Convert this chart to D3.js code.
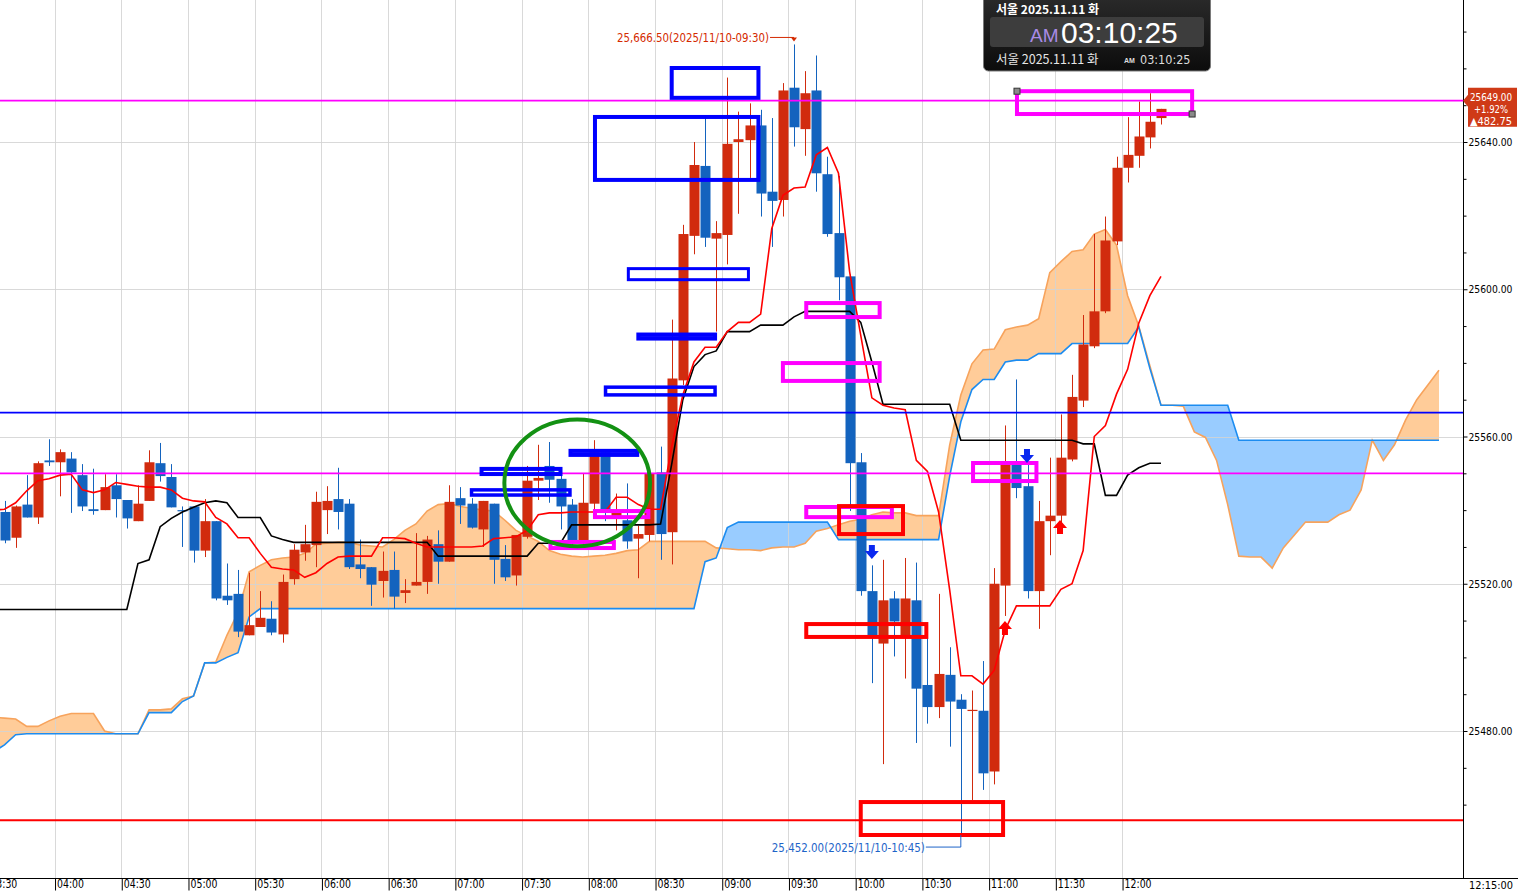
<!DOCTYPE html>
<html><head><meta charset="utf-8">
<script src="https://cdn.jsdelivr.net/npm/d3@7"></script>
<style>
html,body{margin:0;padding:0;background:#fff;overflow:hidden}
svg{display:block}
text{font-family:"Liberation Sans Narrow","DejaVu Sans Condensed",sans-serif}
</style></head><body>
<svg id="c" width="1518" height="892"></svg>
<script>
// ---- categories (5-minute bars) ----
const times = ["03:35","03:40","03:45","03:50","03:55",
"04:00","04:05","04:10","04:15","04:20","04:25","04:30","04:35","04:40","04:45","04:50","04:55",
"05:00","05:05","05:10","05:15","05:20","05:25","05:30","05:35","05:40","05:45","05:50","05:55",
"06:00","06:05","06:10","06:15","06:20","06:25","06:30","06:35","06:40","06:45","06:50","06:55",
"07:00","07:05","07:10","07:15","07:20","07:25","07:30","07:35","07:40","07:45","07:50","07:55",
"08:00","08:05","08:10","08:15","08:20","08:25","08:30","08:35","08:40","08:45","08:50","08:55",
"09:00","09:05","09:10","09:15","09:20","09:25","09:30","09:35","09:40","09:45","09:50","09:55",
"10:00","10:05","10:10","10:15","10:20","10:25","10:30","10:35","10:40","10:45","10:50","10:55",
"11:00","11:05","11:10","11:15","11:20","11:25","11:30","11:35","11:40","11:45","11:50","11:55",
"12:00","12:05","12:10","12:15"];

const open = [25539.5,25532.5,25541.5,25538,25553.5,25553,25554,25549.5,25540.25,25540,
25546.75,25542.75,25537,25542.5,25552.75,25549,25540,25541,25529,25537,
25516.75,25517.25,25506,25508.25,25510.5,25506.25,25521.25,25528.5,25530.5,25540,
25543,25541.75,25525.25,25524.5,25520.75,25523.75,25517.5,25519.5,25520.5,25530.75,
25526,25543.25,25541.75,25534.75,25541.75,25526.75,25522.25,25532.75,25548,25552,
25548.5,25541.5,25531.5,25541.75,25555.75,25538,25537.25,25532.25,25533.25,25550.25,
25534,25575.25,25614.5,25633.5,25613.75,25614.75,25640,25640.5,25644.5,25626.5,
25624.25,25654.75,25643.5,25654,25631.25,25615.25,25603.5,25553,25518,25503.75,
25516,25505.5,25515.5,25492.5,25486.5,25495.25,25488.5,25485.5,25485.5,25469,
25519.5,25552.75,25546.5,25518,25537,25538.5,25553.75,25569.75,25584.5,25594,
25613,25633,25636.25,25641.25,25646.5];
const high = [25542.5,25541.25,25549.5,25553.25,25559.25,25556.5,25555.75,25552.5,25551.25,25549.75,
25549.75,25542.75,25546.75,25556.25,25558.25,25552.5,25541,25541,25543,25537,
25525.5,25523.75,25523,25518,25515.25,25522.5,25530.75,25536,25545,25546.5,
25551.5,25543,25532,25524.5,25528.75,25528.75,25521.25,25533.75,25533,25534.5,
25546.75,25546.25,25543.25,25542.5,25541.75,25530.5,25533.25,25552,25557.75,25558.5,
25550,25543,25550,25559,25556,25544.5,25547.25,25535.75,25551,25557.25,
25591.75,25617.5,25640,25646.5,25618.5,25657.5,25648.25,25650.5,25648.75,25646.5,
25656,25666.5,25659.25,25663.5,25636,25630.75,25604,25555.5,25525,25526.5,
25518,25527,25525.75,25505.75,25517.25,25502.75,25490,25491,25499,25524.25,
25563,25575.5,25552.25,25542.5,25554.25,25566,25576.75,25593,25615,25619.75,
25636,25646.75,25651,25653.25,25649];
const low = [25531,25529.75,25538,25536.25,25552,25543.75,25539.25,25539.75,25538.75,25540,
25538,25535,25537,25542.5,25547.75,25540.75,25530,25525.75,25527.25,25515.5,
25514.25,25505.5,25506,25508.25,25506,25504,25519.75,25526.25,25524.5,25533.5,
25534.75,25524,25521.5,25514,25516.25,25513.25,25514.75,25519.5,25517.25,25520,
25526,25536.25,25535,25530,25520,25520.75,25519.5,25532.25,25542.75,25542,
25534.75,25530,25530,25540,25537,25534.5,25529.5,25521.5,25531.5,25526.5,
25525.25,25574,25609.5,25611.5,25588.5,25606.75,25620.5,25630.25,25619.75,25611.5,
25619.75,25638.75,25636.25,25626.5,25614.25,25597,25539.75,25516.75,25493,25471,
25500.25,25494.25,25476.75,25482,25483.5,25475.75,25452,25461.25,25464,25465.5,
25511.25,25543.25,25516,25507.75,25527.75,25536,25553.25,25568,25584,25593.5,
25612,25629,25633,25638.25,25644.75];
const close = [25531.75,25541,25538,25552.75,25553,25555.75,25550.25,25541,25539.75,25546.25,
25543,25537.75,25541.75,25553,25549.25,25540.75,25539.75,25529,25537,25516,
25515.5,25507,25508.75,25510.75,25506.75,25520.5,25529.25,25530.75,25542.25,25542.5,
25539.5,25524.5,25524,25519.75,25523.5,25516.5,25518.25,25520.5,25532,25526,
25542.25,25541.25,25535.25,25542.5,25526.5,25521.75,25533.25,25548,25548.75,25548.25,
25541,25531.5,25542,25555.75,25539.5,25539.5,25531.5,25533.5,25550,25533.5,
25575.75,25615,25633.75,25614,25615.25,25639.5,25640.75,25644.5,25626,25624,
25654,25644,25653.25,25631.5,25615,25603.25,25552.75,25518,25505.5,25515.5,
25509.75,25516,25491.5,25486.5,25495.5,25488,25486,25485.75,25468.5,25520,
25552.5,25546,25518,25537,25538.5,25554.25,25570.75,25585,25594,25613.25,
25633,25636.5,25641.5,25645.5,25649];

// ---- Ichimoku lines (they start one bar earlier, at 03:30) ----
const lineFirstBar = "03:30";
const tenkan = [25540,25540.25,25542,25545.25,25548,25548.5,25549.5,25549.75,25545.5,25544.75,25545.5,
25547.5,25547,25546.5,25546.25,25546.25,25545.5,25543.25,25542.5,25542.25,25538,
25536.25,25532.5,25532.5,25528.25,25524.5,25524,25523.75,25521.75,25523,25525.5,
25527.25,25527.5,25527.5,25527.5,25532.5,25532.5,25532.25,25531,25530,25530,
25530,25530,25530,25530.25,25532.25,25532.5,25532.75,25534.5,25538.75,25539.25,
25539.25,25539.5,25539.5,25539.5,25539.5,25543.5,25543.5,25541.5,25540.25,25540.25,
25557.25,25571.25,25580.25,25584.25,25584.25,25588.5,25591,25591,25593.25,25616.5,
25625.5,25627.5,25627.75,25636.5,25638.5,25631.5,25604.75,25587.5,25570.5,25568.5,
25567.75,25567.25,25553.5,25550.5,25539.5,25518.25,25495,25495,25492.75,25496.5,
25507.5,25514,25514,25514,25514,25518.5,25520,25529,25560,25563,
25571.5,25578.25,25590.75,25598.25,25603.5];
const kijun = [25513,25513,25513,25513,25513,25513,25513,25513,25513,25513,25513,
25513,25513,25525.5,25526.5,25535.5,25537.75,25539.5,25540.75,25542,25542.5,
25542,25538,25538,25538,25533,25532,25531.25,25531.25,25531.25,25531.25,
25531.25,25531.25,25531.25,25531.25,25531.25,25531.25,25531.25,25531.25,25531.25,25527.5,
25527.5,25527.5,25527.5,25527.5,25527.5,25527.5,25527.5,25527.5,25531,25531,
25531,25536,25536,25536,25536,25536,25536,25536,25536,25536.25,
25552.5,25570,25579,25582.25,25583.25,25588.5,25588.5,25588.5,25590.25,25590.25,
25590.25,25592.5,25594,25594,25594,25594,25594,25591,25580.25,25568.75,
25568.75,25568.75,25568.75,25568.75,25568.75,25568.75,25559,25559,25559,25559,
25559,25559,25559,25559,25559,25559,25559,25558,25558,25544,
25544,25549.5,25551.5,25552.75,25552.75];
const spanA = [25483.75,25483.5,25483.25,25481.25,25481.25,25482.75,25484,25484.75,25484.75,25484.75,25480,
25479.25,25479.25,25479.25,25485.75,25485.75,25486,25488.75,25489.5,25498.5,25498.75,
25506,25512.25,25523.25,25525,25526.5,25527,25527.25,25528.25,25530.75,25531,
25531.25,25531.25,25530.5,25530.25,25530,25532,25534.5,25536.25,25539.75,25541.5,
25541.75,25541,25540.5,25540,25539.75,25537.25,25534.5,25533,25531.5,25529,
25528,25527.5,25527.25,25527.5,25527.75,25528.25,25529,25529.25,25531.5,25531.5,
25531.5,25531.5,25531.5,25531.5,25529.75,25529.5,25529.25,25529.25,25529,25529.75,
25530,25530,25531,25534.25,25535,25536,25537,25537.5,25538.75,25539.5,
25539.25,25539.25,25538.5,25538.5,25538.5,25557.75,25571.25,25579.75,25583.5,25583.75,
25589,25589.75,25590.25,25592,25604.5,25607.5,25610.25,25610.75,25615,25616.25,
25612,25598.25,25590,25579.25,25568.5,25568.5,25568.25,25561.25,25559.75,25553.5,
25541.5,25527.5,25527.25,25527.25,25524.25,25529.75,25533.25,25536.75,25536.75,25536.75,
25538.75,25540,25545.5,25559,25553.5,25557.75,25564.5,25570,25574,25578];
const spanB = [25474.25,25476.25,25479,25479.25,25479.25,25479.25,25479.25,25479.25,25479.25,25479.25,25479.25,
25479.25,25479.25,25479.25,25485,25485,25485,25488,25489.5,25498.5,25498.5,
25500,25501.25,25511,25513.25,25513.25,25513.25,25513.25,25513.25,25513.25,25513.25,
25513.25,25513.25,25513.25,25513.25,25513.25,25513.25,25513.25,25513.25,25513.25,25513.25,
25513.25,25513.25,25513.25,25513.25,25513.25,25513.25,25513.25,25513.25,25513.25,25513.25,
25513.25,25513.25,25513.25,25513.25,25513.25,25513.25,25513.25,25513.25,25513.25,25513.25,
25513.25,25513.25,25513.25,25526,25527,25535.25,25536.75,25536.75,25536.75,25536.75,
25536.75,25536.75,25536.75,25536.75,25536.75,25532,25532,25532,25532,25532,
25532,25532,25532,25532,25532,25549.25,25564,25572.75,25575.5,25575.5,
25580.25,25580.75,25580.75,25582.5,25582.5,25582.5,25585.25,25585.25,25585.25,25585.25,
25585.25,25585.25,25589.75,25578.5,25568.5,25568.5,25568.5,25568.5,25568.5,25568.5,
25568.5,25559,25559,25559,25559,25559,25559,25559,25559,25559,
25559,25559,25559,25559,25559,25559,25559,25559,25559,25559];

// ---- axis ticks ----
const timeTicks = ["03:30","04:00","04:30","05:00","05:30","06:00","06:30","07:00","07:30","08:00","08:30","09:00","09:30","10:00","10:30","11:00","11:30","12:00"];
const priceTicks = [25480,25520,25560,25600,25640];
const minorTicks = [25460,25470,25490,25500,25510,25530,25540,25550,25570,25580,25590,25610,25620,25630,25650,25660,25670];

// ---- user drawings (time index / price) ----
const hLines = [{p:25651.25,c:"#FF00FF"},{p:25550,c:"#FF00FF"},{p:25566.5,c:"#0000FF"},{p:25455.75,c:"#FF0000"}];
const boxes = [
 {c:"#0000FF",w:4,i0:60.0,i1:67.8,p0:25660.1,p1:25652.0},
 {c:"#0000FF",w:4,i0:53.1,i1:67.8,p0:25646.8,p1:25629.7},
 {c:"#0000FF",w:3,i0:56.1,i1:66.9,p0:25605.6,p1:25602.6},
 {c:"#0000FF",w:4,i0:57.0,i1:63.9,p0:25587.7,p1:25586.6},
 {c:"#0000FF",w:3.5,i0:54.05,i1:63.9,p0:25573.4,p1:25571.3},
 {c:"#0000FF",w:4,i0:42.9,i1:50.0,p0:25551.2,p1:25549.8},
 {c:"#0000FF",w:3.5,i0:42.0,i1:50.85,p0:25545.5,p1:25544.1},
 {c:"#0000FF",w:4,i0:50.9,i1:56.9,p0:25556.1,p1:25555.0},
 {c:"#FF00FF",w:4,i0:91.05,i1:106.8,p0:25653.8,p1:25647.6},
 {c:"#FF00FF",w:4,i0:72.1,i1:78.7,p0:25596.25,p1:25592.45},
 {c:"#FF00FF",w:4,i0:70.0,i1:78.7,p0:25579.95,p1:25575.1},
 {c:"#FF00FF",w:4,i0:87.1,i1:92.8,p0:25552.8,p1:25547.9},
 {c:"#FF00FF",w:4,i0:72.1,i1:79.8,p0:25540.85,p1:25538.1},
 {c:"#FF00FF",w:4,i0:53.1,i1:57.9,p0:25539.75,p1:25538.1},
 {c:"#FF00FF",w:4,i0:49.1,i1:54.8,p0:25531.35,p1:25529.7},
 {c:"#FF0000",w:4,i0:75.05,i1:80.8,p0:25541.1,p1:25533.5},
 {c:"#FF0000",w:4,i0:72.1,i1:82.9,p0:25509.05,p1:25505.55},
 {c:"#FF0000",w:4,i0:77.0,i1:89.8,p0:25460.7,p1:25451.75}
];
const circle = {i:51.5, p:25547.4, ri:6.55, rp:17.2};
const arrows = [{i:78,p:25528.6,dir:"down",c:"#0A28F0"},{i:91.95,p:25554.7,dir:"down",c:"#0A28F0"},
                {i:89.97,p:25508,dir:"up",c:"#FF0000"},{i:94.92,p:25535.4,dir:"up",c:"#FF0000"}];
const highMark = {i:71, p:25666.5, label:"25,666.50(2025/11/10-09:30)"};
const lowMark = {i:86, p:25452, label:"25,452.00(2025/11/10-10:45)"};
const lastPrice = ["25649.00","+1.92%","▲482.75"];

// ---- layout ----
const plotR = 1463, plotB = 878;
const svg = d3.select("#c");
const x = d3.scaleLinear().domain([-0.405, 131.16]).range([0, plotR]);
const y = d3.scaleLinear().domain([25640, 25480]).range([142, 731]);
const toMin = t => { const [h,m] = t.split(":").map(Number); return h*60+m; };
const barIdx = t => (toMin(t) - toMin(times[0]))/5;
const lineOff = barIdx(lineFirstBar);

const RED = "#D12B0E", BLUE = "#1363BE";
const NARROW = '"Liberation Sans Narrow","DejaVu Sans Condensed",sans-serif';

const plot = svg.append("g");
const defs = svg.append("defs");
defs.append("clipPath").attr("id","plotclip").append("rect").attr("x",0).attr("y",0).attr("width",plotR).attr("height",plotB);
plot.attr("clip-path","url(#plotclip)");

// cloud
const cidx = d3.range(spanA.length);
const areaAB = d3.area().x(k=>x(k+lineOff)).y0(k=>y(spanA[k])).y1(k=>y(spanB[k]));
const belowA = d3.area().x(k=>x(k+lineOff)).y0(k=>y(spanA[k])).y1(plotB+50);
const belowB = d3.area().x(k=>x(k+lineOff)).y0(k=>y(spanB[k])).y1(plotB+50);
defs.append("clipPath").attr("id","clA").append("path").attr("d", belowA(cidx));
defs.append("clipPath").attr("id","clB").append("path").attr("d", belowB(cidx));
plot.append("g").attr("clip-path","url(#clA)").append("path").attr("d",areaAB(cidx)).attr("fill","#FFCC99");
plot.append("g").attr("clip-path","url(#clB)").append("path").attr("d",areaAB(cidx)).attr("fill","#99CCFF");

// grid
const gridG = plot.append("g");
timeTicks.forEach(t => {
  const gx = Math.round(x(barIdx(t) - 0.5)) + 0.5;
  gridG.append("line").attr("x1",gx).attr("x2",gx).attr("y1",0).attr("y2",plotB).attr("stroke","#d2d2d2").attr("stroke-opacity",0.85);
});
priceTicks.forEach(p => {
  const gy = Math.round(y(p)) + 0.5;
  gridG.append("line").attr("x1",0).attr("x2",plotR).attr("y1",gy).attr("y2",gy).attr("stroke","#d2d2d2").attr("stroke-opacity",0.85);
});

const lineGen = arr => d3.line().x(k=>x(k+lineOff)).y(k=>y(arr[k]))(d3.range(arr.length));
plot.append("path").attr("d", lineGen(spanA)).attr("fill","none").attr("stroke","#F7A35C").attr("stroke-width",1.6);
plot.append("path").attr("d", lineGen(spanB)).attr("fill","none").attr("stroke","#1C8CF0").attr("stroke-width",1.6);

// candles
const cg = plot.append("g");
d3.range(open.length).forEach(i => {
  const up = close[i] >= open[i];
  const col = up ? RED : BLUE;
  const cx = Math.round(x(i));
  cg.append("line").attr("x1",cx+0.5).attr("x2",cx+0.5).attr("y1",y(high[i])).attr("y2",y(low[i])).attr("stroke",col).attr("stroke-width",1);
  const yt = y(Math.max(open[i],close[i])), yb = y(Math.min(open[i],close[i]));
  cg.append("rect").attr("x",cx-4.5).attr("width",10).attr("y",yt).attr("height",Math.max(1.2,yb-yt)).attr("fill",col);
});

plot.append("path").attr("d", lineGen(kijun)).attr("fill","none").attr("stroke","#000").attr("stroke-width",1.6);
plot.append("path").attr("d", lineGen(tenkan)).attr("fill","none").attr("stroke","#FF0000").attr("stroke-width",1.6);

// drawings
hLines.forEach(h => {
  plot.append("line").attr("x1",0).attr("x2",plotR).attr("y1",y(h.p)).attr("y2",y(h.p)).attr("stroke",h.c).attr("stroke-width",1.8);
});
boxes.forEach(b => {
  plot.append("rect").attr("x",x(b.i0)).attr("y",y(b.p0)).attr("width",x(b.i1)-x(b.i0)).attr("height",y(b.p1)-y(b.p0))
    .attr("fill","none").attr("stroke",b.c).attr("stroke-width",b.w);
});
const sel = boxes[8];
[[sel.i0,sel.p0],[sel.i1,sel.p1]].forEach(([ii,pp]) => {
  plot.append("rect").attr("x",x(ii)-3).attr("y",y(pp)-3).attr("width",6).attr("height",6).attr("fill","#8a8a8a").attr("stroke","#333").attr("stroke-width",1);
});
plot.append("ellipse").attr("cx",x(circle.i)).attr("cy",y(circle.p))
  .attr("rx",x(circle.i+circle.ri)-x(circle.i)).attr("ry",y(circle.p-circle.rp)-y(circle.p))
  .attr("fill","none").attr("stroke","#139113").attr("stroke-width",4);
arrows.forEach(a => {
  const ax = x(a.i), ay = y(a.p);
  const s = a.dir==="down" ? 1 : -1;
  const pts = [[-3,-7],[3,-7],[3,-1],[7,-1],[0,7],[-7,-1],[-3,-1]].map(([px,py])=>[ax+px, ay+s*py]);
  plot.append("path").attr("d","M"+pts.map(p=>p.join(",")).join("L")+"Z").attr("fill",a.c);
});

// high / low marks
{
  const hx = x(highMark.i), hy = y(highMark.p) - 7;
  plot.append("line").attr("x1",hx-24).attr("x2",hx).attr("y1",hy).attr("y2",hy).attr("stroke","#D42A00").attr("stroke-width",1);
  plot.append("path").attr("d",`M${hx-3},${hy}L${hx+3},${hy}L${hx},${hy+4}Z`).attr("fill","#D42A00");
  plot.append("text").attr("x",hx-25).attr("y",hy+4.5).attr("text-anchor","end").attr("fill","#D42A00").attr("font-size",12.5)
    .attr("textLength",152).attr("lengthAdjust","spacingAndGlyphs").text(highMark.label);
  const lx = x(lowMark.i), ly = y(lowMark.p) + 13;
  plot.append("path").attr("d",`M${lx-35},${ly}H${lx}V${y(lowMark.p)+1}`).attr("fill","none").attr("stroke","#1E64C8").attr("stroke-width",1);
  plot.append("text").attr("x",lx-36).attr("y",ly+4.5).attr("text-anchor","end").attr("fill","#1E64C8").attr("font-size",12.5)
    .attr("textLength",153).attr("lengthAdjust","spacingAndGlyphs").text(lowMark.label);
}

// axes
const yAxis = d3.axisRight(y).tickValues(priceTicks).tickSize(4).tickPadding(1).tickFormat(d=>d.toFixed(2));
const ya = svg.append("g").attr("transform",`translate(${plotR+0.5},0)`).call(yAxis);
ya.select(".domain").attr("d",`M0,0V${plotB}`).attr("stroke","#000");
ya.selectAll("text").attr("font-size",11).attr("fill","#000").attr("textLength",44).attr("lengthAdjust","spacingAndGlyphs").style("font-family",NARROW);
const yMinor = d3.axisRight(y).tickValues(minorTicks).tickSize(3).tickFormat("");
const ym = svg.append("g").attr("transform",`translate(${plotR+0.5},0)`).call(yMinor);
ym.select(".domain").remove();

const xAxis = d3.axisBottom(x).tickValues(timeTicks.map(t=>barIdx(t)-0.5)).tickSize(12).tickPadding(-10).tickFormat((d,k)=>timeTicks[k]);
const xa = svg.append("g").attr("transform",`translate(0,${plotB+0.5})`).call(xAxis);
xa.select(".domain").attr("d",`M0,0H1518`).attr("stroke","#000");
xa.selectAll(".tick line").attr("transform","translate(0.5,0)");
xa.selectAll("text").attr("text-anchor","start").attr("dx",2).attr("y",1).attr("dy","0.71em").attr("font-size",12.5).attr("fill","#000")
  .attr("textLength",27).attr("lengthAdjust","spacingAndGlyphs").style("font-family",NARROW);
svg.append("text").attr("x",1469).attr("y",889).attr("font-size",11).attr("fill","#000").attr("textLength",44).attr("lengthAdjust","spacingAndGlyphs").text("12:15:00");

// last price tag
{
  const ty = y(close[close.length-1]);
  const g = svg.append("g");
  g.append("path").attr("d",`M${plotR},${ty-8}L${plotR+5},${ty-14}V${ty-21}H1517V${ty+18}H${plotR+5}V${ty-2}Z`).attr("fill","#CF3A17");
  lastPrice.forEach((t,k)=>{
    g.append("text").attr("x",1491).attr("y",ty-8+k*12).attr("text-anchor","middle").attr("fill","#fff").attr("font-size",11)
      .attr("textLength",k===1?34:42).attr("lengthAdjust","spacingAndGlyphs").text(t);
  });
}

// clock widget
{
  const g = svg.append("g");
  const gr = defs.append("linearGradient").attr("id","clk").attr("x1",0).attr("x2",0).attr("y1",0).attr("y2",1);
  gr.append("stop").attr("offset","0").attr("stop-color","#2b2b2b");
  gr.append("stop").attr("offset","1").attr("stop-color","#0c0c0c");
  g.append("rect").attr("x",983.5).attr("y",-6).attr("width",227).attr("height",77).attr("rx",5).attr("fill","url(#clk)").attr("stroke","#7a7a7a");
  g.append("rect").attr("x",990).attr("y",17).attr("width",214).attr("height",30).attr("rx",3).attr("fill","#3d3d3d");
  const ko = '"Noto Sans CJK KR",sans-serif';
  g.append("text").attr("x",996).attr("y",13.5).attr("fill","#fff").attr("font-size",12).attr("font-weight","bold").style("font-family",ko).text("서울 2025.11.11 화");
  g.append("text").attr("x",1030).attr("y",42).attr("fill","#A98BE6").attr("font-size",19).style("font-family",'"Liberation Sans",sans-serif').text("AM");
  g.append("text").attr("x",1061).attr("y",43).attr("fill","#fff").attr("font-size",30).style("font-family",'"Liberation Sans",sans-serif').text("03:10:25");
  g.append("text").attr("x",996).attr("y",64).attr("fill","#e6e6e6").attr("font-size",12.5).style("font-family",ko).text("서울 2025.11.11 화");
  g.append("text").attr("x",1124).attr("y",63).attr("fill","#ddd").attr("font-size",7).attr("font-weight","bold").style("font-family",'"Liberation Sans",sans-serif').text("AM");
  g.append("text").attr("x",1140).attr("y",64).attr("fill","#ddd").attr("font-size",12.5).text("03:10:25");
}
</script>
</body></html>
